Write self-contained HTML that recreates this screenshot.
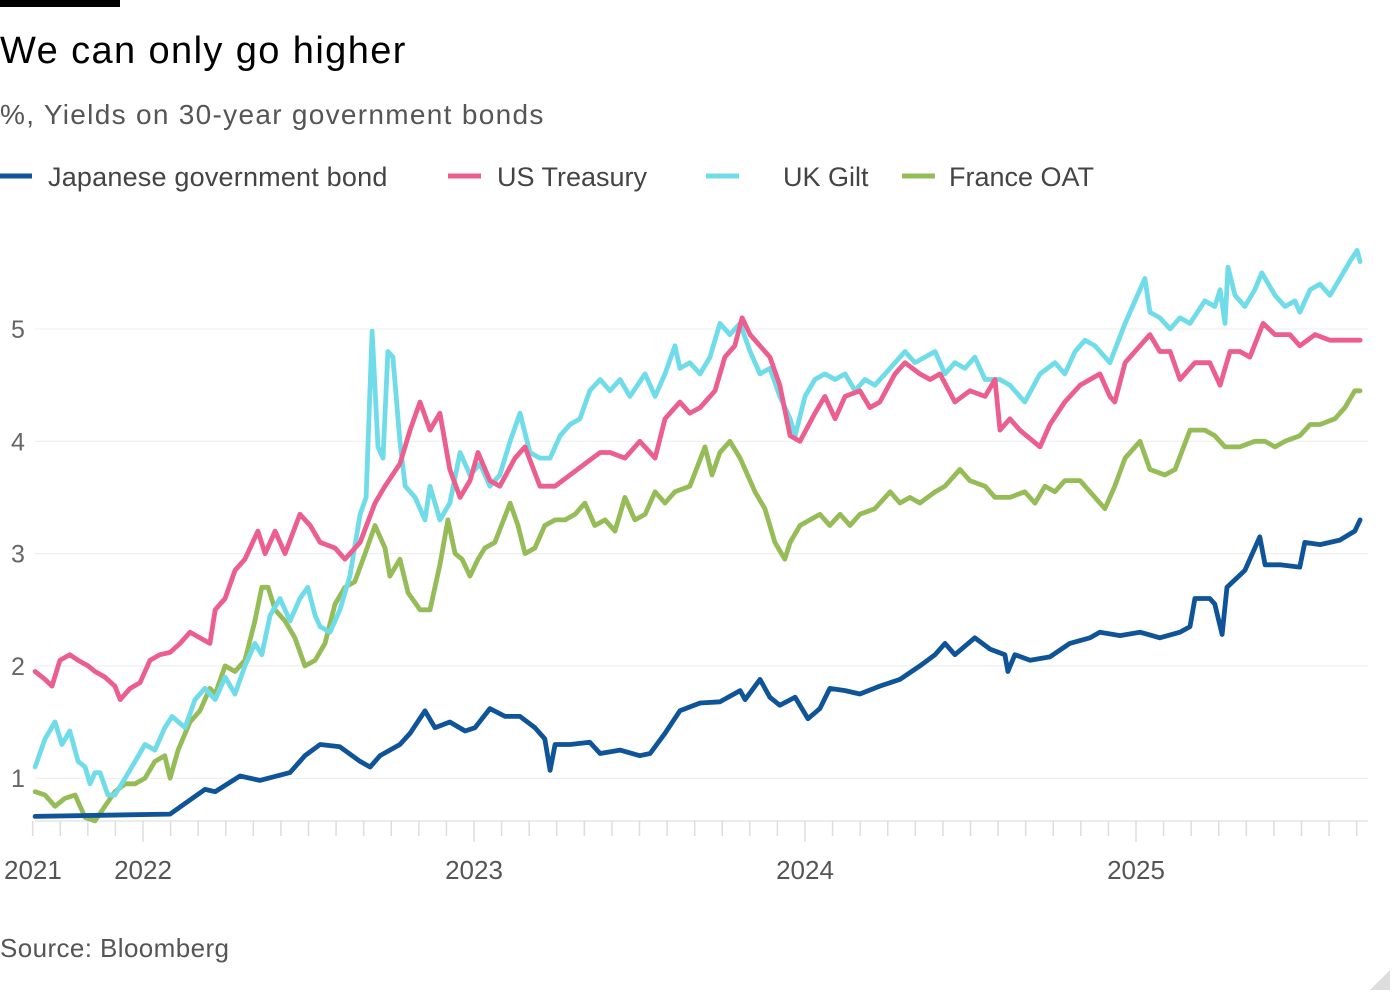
<!DOCTYPE html>
<html><head><meta charset="utf-8"><style>
body{margin:0;background:#fff;width:1400px;height:1000px;overflow:hidden;font-family:"Liberation Sans",sans-serif;}
</style></head><body>
<svg id="chart" width="1400" height="1000" xmlns="http://www.w3.org/2000/svg" style="position:absolute;left:0;top:0">
<rect x="0" y="0" width="120" height="7" fill="#000"/>
<text x="0" y="63" font-size="38" letter-spacing="1.4" fill="#000">We can only go higher</text>
<text x="0" y="124" font-size="28" letter-spacing="1.3" fill="#555">%, Yields on 30-year government bonds</text>
<g font-size="27" fill="#444">
<g><line x1="0" y1="176" x2="32" y2="176" stroke="#0f5499" stroke-width="5"/><text x="48" y="186" letter-spacing="0.2">Japanese government bond</text></g>
<g><line x1="448" y1="176" x2="481" y2="176" stroke="#eb5e8d" stroke-width="5"/><text x="497" y="186">US Treasury</text></g>
<g><line x1="706" y1="176" x2="739" y2="176" stroke="#70dce9" stroke-width="5"/><text x="783" y="186">UK Gilt</text></g>
<g><line x1="902" y1="176" x2="935" y2="176" stroke="#96bc57" stroke-width="5"/><text x="949" y="186">France OAT</text></g>
</g>
<g id="grid"></g><g id="axis"></g><g id="series"></g>
<text x="0" y="957" font-size="26" letter-spacing="0.4" fill="#555">Source: Bloomberg</text>
<polygon points="1390,970 1390,990 1370,990" fill="#ddd"/>
</svg>
<script>
const yTicks=[1,2,3,4,5];
const xYearLabels=[2022,2023,2024,2025];
const jgbDates=[2021.674,2021.870,2022.082,2022.187,2022.218,2022.293,2022.353,2022.444,2022.489,2022.535,2022.595,2022.656,2022.686,2022.716,2022.776,2022.807,2022.852,2022.882,2022.927,2022.973,2023.003,2023.048,2023.094,2023.139,2023.184,2023.214,2023.230,2023.245,2023.290,2023.350,2023.381,2023.441,2023.501,2023.532,2023.577,2023.622,2023.683,2023.743,2023.804,2023.819,2023.864,2023.894,2023.924,2023.970,2024.009,2024.045,2024.075,2024.121,2024.166,2024.226,2024.287,2024.347,2024.393,2024.423,2024.453,2024.513,2024.559,2024.604,2024.613,2024.634,2024.680,2024.740,2024.800,2024.861,2024.891,2024.952,2025.012,2025.072,2025.133,2025.163,2025.178,2025.223,2025.238,2025.260,2025.275,2025.329,2025.374,2025.390,2025.435,2025.495,2025.510,2025.556,2025.616,2025.661,2025.677];
const jgbValues=[0.66,0.67,0.68,0.9,0.88,1.02,0.98,1.05,1.2,1.3,1.28,1.15,1.1,1.2,1.3,1.4,1.6,1.45,1.5,1.42,1.45,1.62,1.55,1.55,1.45,1.35,1.07,1.3,1.3,1.32,1.22,1.25,1.2,1.22,1.4,1.6,1.67,1.68,1.78,1.7,1.88,1.72,1.65,1.72,1.53,1.62,1.8,1.78,1.75,1.82,1.88,2.0,2.1,2.2,2.1,2.25,2.15,2.1,1.95,2.1,2.05,2.08,2.2,2.25,2.3,2.27,2.3,2.25,2.3,2.35,2.6,2.6,2.55,2.28,2.7,2.85,3.15,2.9,2.9,2.88,3.1,3.08,3.12,3.2,3.3];
const usDates=[2021.674,2021.704,2021.725,2021.749,2021.779,2021.804,2021.834,2021.855,2021.885,2021.915,2021.931,2021.961,2021.991,2022.021,2022.051,2022.082,2022.112,2022.142,2022.172,2022.202,2022.218,2022.248,2022.278,2022.308,2022.347,2022.369,2022.399,2022.429,2022.474,2022.505,2022.535,2022.580,2022.610,2022.656,2022.701,2022.731,2022.776,2022.807,2022.837,2022.867,2022.897,2022.927,2022.958,2022.988,2023.012,2023.048,2023.078,2023.124,2023.154,2023.199,2023.245,2023.290,2023.335,2023.381,2023.411,2023.456,2023.501,2023.547,2023.577,2023.622,2023.652,2023.683,2023.728,2023.758,2023.788,2023.810,2023.834,2023.864,2023.894,2023.924,2023.955,2023.985,2024.030,2024.060,2024.091,2024.121,2024.166,2024.196,2024.226,2024.272,2024.302,2024.347,2024.378,2024.408,2024.453,2024.498,2024.544,2024.574,2024.589,2024.619,2024.649,2024.710,2024.740,2024.785,2024.831,2024.861,2024.891,2024.921,2024.936,2024.967,2025.012,2025.042,2025.072,2025.103,2025.133,2025.178,2025.223,2025.254,2025.284,2025.314,2025.344,2025.384,2025.420,2025.465,2025.495,2025.541,2025.586,2025.631,2025.677];
const usValues=[1.95,1.88,1.82,2.05,2.1,2.05,2.0,1.95,1.9,1.82,1.7,1.8,1.85,2.05,2.1,2.12,2.2,2.3,2.25,2.2,2.5,2.6,2.85,2.95,3.2,3.0,3.2,3.0,3.35,3.25,3.1,3.05,2.95,3.1,3.45,3.6,3.8,4.1,4.35,4.1,4.25,3.75,3.5,3.65,3.9,3.65,3.6,3.85,3.95,3.6,3.6,3.7,3.8,3.9,3.9,3.85,4.0,3.85,4.2,4.35,4.25,4.3,4.45,4.75,4.85,5.1,4.95,4.85,4.75,4.5,4.05,4.0,4.25,4.4,4.2,4.4,4.45,4.3,4.35,4.6,4.7,4.6,4.55,4.6,4.35,4.45,4.4,4.55,4.1,4.2,4.1,3.95,4.15,4.35,4.5,4.55,4.6,4.4,4.35,4.7,4.85,4.95,4.8,4.8,4.55,4.7,4.7,4.5,4.8,4.8,4.75,5.05,4.95,4.95,4.85,4.95,4.9,4.9,4.9];
const ukDates=[2021.674,2021.704,2021.734,2021.755,2021.779,2021.804,2021.825,2021.840,2021.855,2021.870,2021.894,2021.915,2021.946,2021.976,2022.006,2022.036,2022.066,2022.088,2022.127,2022.157,2022.187,2022.218,2022.248,2022.278,2022.308,2022.338,2022.359,2022.384,2022.414,2022.444,2022.474,2022.498,2022.520,2022.535,2022.565,2022.595,2022.625,2022.656,2022.674,2022.692,2022.710,2022.725,2022.740,2022.755,2022.776,2022.792,2022.822,2022.852,2022.867,2022.897,2022.927,2022.958,2022.988,2023.018,2023.048,2023.078,2023.109,2023.139,2023.169,2023.199,2023.230,2023.260,2023.290,2023.320,2023.350,2023.381,2023.411,2023.441,2023.471,2023.517,2023.547,2023.577,2023.607,2023.622,2023.652,2023.683,2023.713,2023.743,2023.773,2023.804,2023.834,2023.864,2023.894,2023.924,2023.955,2023.970,2024.000,2024.030,2024.060,2024.091,2024.121,2024.151,2024.181,2024.211,2024.242,2024.272,2024.302,2024.332,2024.393,2024.423,2024.453,2024.483,2024.513,2024.544,2024.589,2024.619,2024.664,2024.710,2024.755,2024.785,2024.816,2024.846,2024.876,2024.921,2024.967,2024.997,2025.027,2025.042,2025.072,2025.103,2025.133,2025.163,2025.208,2025.238,2025.254,2025.269,2025.278,2025.299,2025.329,2025.359,2025.380,2025.420,2025.450,2025.480,2025.495,2025.526,2025.556,2025.586,2025.616,2025.646,2025.668,2025.677];
const ukValues=[1.1,1.35,1.5,1.3,1.42,1.15,1.1,0.95,1.05,1.05,0.85,0.85,1.0,1.15,1.3,1.25,1.45,1.55,1.45,1.7,1.8,1.7,1.9,1.75,2.0,2.2,2.1,2.45,2.6,2.4,2.6,2.7,2.45,2.35,2.3,2.5,2.8,3.35,3.5,4.98,3.95,3.85,4.8,4.75,4.0,3.6,3.5,3.3,3.6,3.3,3.45,3.9,3.7,3.8,3.6,3.7,4.0,4.25,3.9,3.85,3.85,4.05,4.15,4.2,4.45,4.55,4.45,4.55,4.4,4.6,4.4,4.6,4.85,4.65,4.7,4.6,4.75,5.05,4.95,5.05,4.8,4.6,4.65,4.4,4.2,4.05,4.4,4.55,4.6,4.55,4.6,4.45,4.55,4.5,4.6,4.7,4.8,4.7,4.8,4.6,4.7,4.65,4.75,4.55,4.55,4.5,4.35,4.6,4.7,4.6,4.8,4.9,4.85,4.7,5.05,5.25,5.45,5.15,5.1,5.0,5.1,5.05,5.25,5.2,5.35,5.05,5.55,5.3,5.2,5.35,5.5,5.3,5.2,5.25,5.15,5.35,5.4,5.3,5.45,5.6,5.7,5.6];
const frDates=[2021.674,2021.704,2021.734,2021.764,2021.795,2021.825,2021.855,2021.885,2021.915,2021.946,2021.976,2022.006,2022.036,2022.066,2022.082,2022.106,2022.142,2022.172,2022.202,2022.218,2022.248,2022.278,2022.308,2022.338,2022.359,2022.378,2022.399,2022.429,2022.459,2022.489,2022.520,2022.550,2022.580,2022.610,2022.640,2022.671,2022.701,2022.731,2022.746,2022.776,2022.801,2022.837,2022.867,2022.897,2022.921,2022.943,2022.964,2022.988,2023.012,2023.033,2023.063,2023.109,2023.133,2023.154,2023.184,2023.214,2023.245,2023.275,2023.305,2023.335,2023.365,2023.396,2023.426,2023.456,2023.486,2023.517,2023.547,2023.577,2023.607,2023.652,2023.698,2023.719,2023.743,2023.773,2023.804,2023.849,2023.879,2023.909,2023.939,2023.955,2023.985,2024.015,2024.045,2024.075,2024.106,2024.136,2024.166,2024.211,2024.257,2024.287,2024.317,2024.347,2024.393,2024.423,2024.468,2024.498,2024.544,2024.574,2024.619,2024.664,2024.695,2024.725,2024.755,2024.785,2024.831,2024.861,2024.906,2024.936,2024.967,2025.012,2025.042,2025.087,2025.118,2025.163,2025.208,2025.238,2025.269,2025.314,2025.359,2025.390,2025.420,2025.450,2025.495,2025.526,2025.556,2025.601,2025.631,2025.661,2025.677];
const frValues=[0.88,0.85,0.75,0.82,0.85,0.65,0.62,0.75,0.88,0.95,0.95,1.0,1.15,1.2,1.0,1.25,1.5,1.6,1.8,1.75,2.0,1.95,2.05,2.4,2.7,2.7,2.5,2.4,2.25,2.0,2.05,2.2,2.55,2.7,2.75,3.0,3.25,3.05,2.8,2.95,2.65,2.5,2.5,2.9,3.3,3.0,2.95,2.8,2.95,3.05,3.1,3.45,3.25,3.0,3.05,3.25,3.3,3.3,3.35,3.45,3.25,3.3,3.2,3.5,3.3,3.35,3.55,3.45,3.55,3.6,3.95,3.7,3.9,4.0,3.85,3.55,3.4,3.1,2.95,3.1,3.25,3.3,3.35,3.25,3.35,3.25,3.35,3.4,3.55,3.45,3.5,3.45,3.55,3.6,3.75,3.65,3.6,3.5,3.5,3.55,3.45,3.6,3.55,3.65,3.65,3.55,3.4,3.6,3.85,4.0,3.75,3.7,3.75,4.1,4.1,4.05,3.95,3.95,4.0,4.0,3.95,4.0,4.05,4.15,4.15,4.2,4.3,4.45,4.45];

const NS='http://www.w3.org/2000/svg';
const X0=35,X1=1368;
function xs(t){return 143+(t-2022)*331;}
function ys(v){return 890.5-v*112.3;}
function mk(tag,attrs,parent){const e=document.createElementNS(NS,tag);for(const k in attrs)e.setAttribute(k,attrs[k]);parent.appendChild(e);return e;}
const grid=document.getElementById('grid'),axis=document.getElementById('axis'),series=document.getElementById('series');
yTicks.forEach(v=>{
  const l=mk('line',{x1:X0,x2:X1,y1:ys(v),y2:ys(v),stroke:'#ececec','stroke-width':1},grid);
  
  
  const t=mk('text',{x:18,y:ys(v)+9,'font-size':25,fill:'#666','text-anchor':'middle'},grid);
  
  
  t.textContent=v;
});
const base=mk('line',{x1:X0,x2:X1,y1:821,y2:821,stroke:'#e6e6e6','stroke-width':1.5},axis);


for(let m=0;m<=48;m++){
  const t=2021+8/12+m/12;
  const major=Math.abs(t-Math.round(t))<1e-6;
  const tk=mk('line',{x1:xs(t),x2:xs(t),y1:821,y2:major?842:836,stroke:'#ddd','stroke-width':1.5},axis);
  
  
}
const first=mk('text',{x:4,y:879,'font-size':26,fill:'#555'},axis);


first.textContent='2021';
xYearLabels.forEach(y=>{
  const t=mk('text',{x:xs(y),y:879,'font-size':26,fill:'#555','text-anchor':'middle'},axis);
  
  
  t.textContent=y;
});
function drawLine(d,v,color,name){
  const p=d.map((t,i)=>(i?'L':'M')+xs(t).toFixed(1)+','+ys(v[i]).toFixed(1)).join('');
  const path=mk('path',{d:p,fill:'none',stroke:color,'stroke-width':4.8,'stroke-linejoin':'round','stroke-linecap':'round'},series);
  
  
}
drawLine(frDates,frValues,'#96bc57','line-france-oat');
drawLine(ukDates,ukValues,'#70dce9','line-uk-gilt');
drawLine(usDates,usValues,'#eb5e8d','line-us-treasury');
drawLine(jgbDates,jgbValues,'#0f5499','line-japanese-government-bond');
</script>
</body></html>
